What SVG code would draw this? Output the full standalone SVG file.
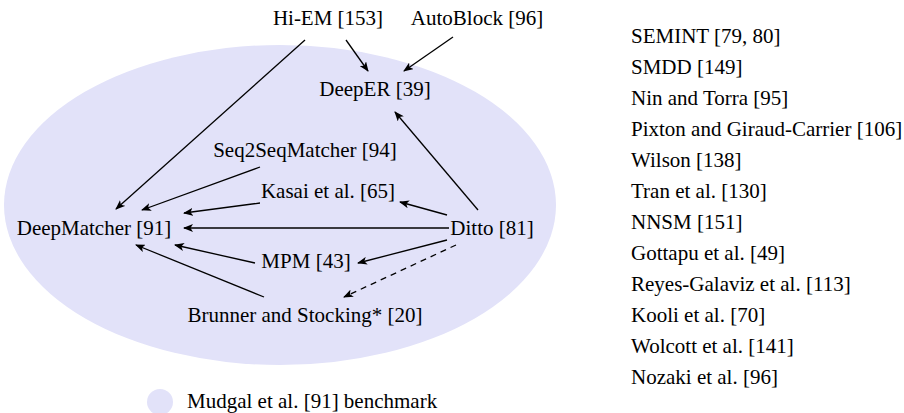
<svg xmlns="http://www.w3.org/2000/svg" width="904" height="413" viewBox="0 0 904 413">
  <style>
    .mid { text-anchor: middle; }
    .edge { stroke: #000; stroke-width: 1.3; fill: none; marker-end: url(#head); }
    .dash { stroke-dasharray: 6 5; }
  </style>
  <defs>
    <marker id="head" viewBox="0 0 10 8" refX="9" refY="4" markerWidth="10" markerHeight="8" markerUnits="userSpaceOnUse" orient="auto">
      <path d="M0,0 L10,4 L0,8 L2.5,4 z" fill="#000"/>
    </marker>
  </defs>

  <!-- benchmark region -->
  <ellipse id="benchmark" cx="280" cy="205" rx="276" ry="160" fill="#e2e2f9"/>

  <g id="connectors">
    <line class="edge" x1="305" y1="40" x2="116" y2="209"/>
    <line class="edge" x1="346" y1="40" x2="368" y2="71"/>
    <line class="edge" x1="453" y1="37" x2="404" y2="71"/>
    <line class="edge" x1="478" y1="210" x2="395" y2="112"/>
    <line class="edge" x1="260" y1="167" x2="142" y2="210"/>
    <line class="edge" x1="260" y1="203" x2="184" y2="213"/>
    <line class="edge" x1="449" y1="228" x2="184" y2="228"/>
    <line class="edge" x1="447" y1="215" x2="400" y2="202"/>
    <line class="edge" x1="447" y1="240" x2="358" y2="263"/>
    <line class="edge" x1="255" y1="263" x2="175" y2="245"/>
    <line class="edge" x1="264" y1="297" x2="136" y2="245"/>
    <line class="edge dash" x1="456" y1="245" x2="344" y2="297"/>
  </g>

  <g font-family="'Liberation Serif', 'Times New Roman', serif" font-size="21" fill="#000">
    <g id="hiem"><text class="mid" x="328" y="25">Hi-EM [153]</text></g>
    <g id="autoblock"><text class="mid" x="477" y="25">AutoBlock [96]</text></g>
    <g id="deeper"><text class="mid" x="375" y="96">DeepER [39]</text></g>
    <g id="seq2seq"><text class="mid" x="305" y="157">Seq2SeqMatcher [94]</text></g>
    <g id="kasai"><text class="mid" x="328" y="198">Kasai et al. [65]</text></g>
    <g id="deepmatcher"><text class="mid" x="94" y="235">DeepMatcher [91]</text></g>
    <g id="ditto"><text class="mid" x="492" y="235">Ditto [81]</text></g>
    <g id="mpm"><text class="mid" x="306" y="268">MPM [43]</text></g>
    <g id="brunner"><text class="mid" x="305" y="322">Brunner and Stocking* [20]</text></g>

    <!-- legend -->
    <g id="legend">
      <circle cx="160" cy="402" r="13" fill="#e2e2f9"/>
      <text x="187" y="408">Mudgal et al. [91] benchmark</text>
    </g>

    <!-- methods evaluated outside the benchmark -->
    <g id="others">
      <text x="631" y="43">SEMINT [79, 80]</text>
      <text x="631" y="74">SMDD [149]</text>
      <text x="631" y="105">Nin and Torra [95]</text>
      <text x="631" y="136">Pixton and Giraud-Carrier [106]</text>
      <text x="631" y="167">Wilson [138]</text>
      <text x="631" y="198">Tran et al. [130]</text>
      <text x="631" y="229">NNSM [151]</text>
      <text x="631" y="260">Gottapu et al. [49]</text>
      <text x="631" y="291">Reyes-Galaviz et al. [113]</text>
      <text x="631" y="322">Kooli et al. [70]</text>
      <text x="631" y="353">Wolcott et al. [141]</text>
      <text x="631" y="384">Nozaki et al. [96]</text>
    </g>
  </g>
</svg>
